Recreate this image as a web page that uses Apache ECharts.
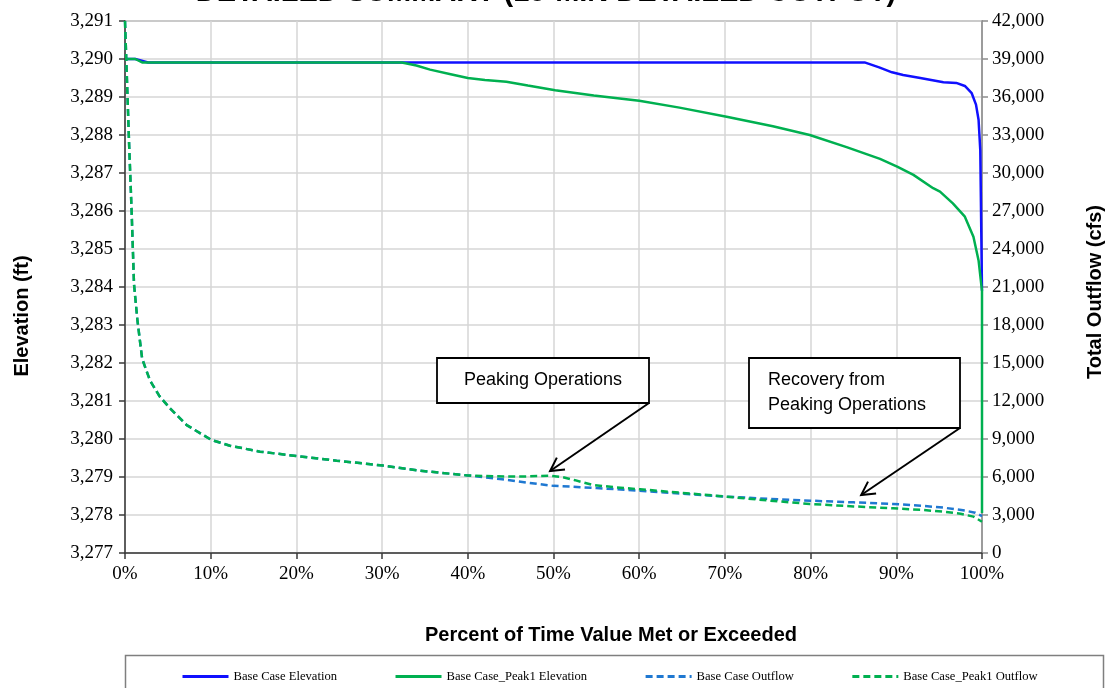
<!DOCTYPE html>
<html><head><meta charset="utf-8">
<script src="https://cdn.jsdelivr.net/npm/echarts@6/dist/echarts.min.js"></script>
<style>html,body{margin:0;padding:0;background:#fff}#c{width:1108px;height:688px}</style>
</head><body><div id="c"></div>
<script>
// ---- data ----
const baseElevPct = [0, 1.2, 2.7, 86.3, 88, 89.5, 90.8, 92.8, 95.5, 97, 98, 98.8, 99.3, 99.6, 99.8, 100];
const baseElevFt  = [3290.0, 3290.0, 3289.91, 3289.91, 3289.78, 3289.65, 3289.58, 3289.5, 3289.39, 3289.37, 3289.29, 3289.1, 3288.8, 3288.4, 3287.6, 3283.9];

const peakElevPct = [0, 1.2, 2.0, 32.3, 34, 35.6, 38, 40, 42, 44.5, 47, 50.2, 54.7, 60, 64.7, 70.2, 75.6, 79.9, 84.2, 88.1, 90.1, 92, 94.3, 95.1, 96.6, 98, 99, 99.6, 100, 100];
const peakElevFt  = [3290, 3290, 3289.91, 3289.91, 3289.83, 3289.72, 3289.6, 3289.5, 3289.45, 3289.4, 3289.3, 3289.18, 3289.04, 3288.9, 3288.72, 3288.48, 3288.23, 3288.0, 3287.68, 3287.37, 3287.17, 3286.95, 3286.6, 3286.51, 3286.2, 3285.85, 3285.32, 3284.7, 3283.9, 3278.05];

const baseOutPct = [0, 0.47, 0.78, 1.05, 1.44, 2.0, 2.9, 4.0, 5.25, 7.2, 10.1, 12.25, 15.75, 20, 24.7, 30.1, 34.4, 40, 42, 44, 47, 50, 52, 55, 60, 65, 70.2, 75, 80, 85, 89.6, 93, 95.5, 98, 99.2, 100];
const baseOutCfs = [42000, 32460, 26850, 21240, 18430, 15340, 13650, 12400, 11420, 10100, 8920, 8470, 8000, 7660, 7290, 6900, 6500, 6120, 5980, 5820, 5550, 5300, 5240, 5130, 4920, 4680, 4450, 4280, 4130, 4000, 3870, 3730, 3580, 3350, 3180, 2920];

const peakOutPct = [0, 0.47, 0.78, 1.05, 1.44, 2.0, 2.9, 4.0, 5.25, 7.2, 10.1, 12.25, 15.75, 20, 24.7, 30.1, 34.4, 40, 43, 46, 49.5, 51, 52.5, 54.6, 57, 60.1, 65, 70.2, 75, 79.9, 85, 89.6, 93, 95.5, 97.5, 99, 100];
const peakOutCfs = [42000, 32460, 26850, 21240, 18430, 15340, 13650, 12400, 11420, 10100, 8920, 8470, 8000, 7660, 7290, 6900, 6500, 6120, 6060, 6030, 6100, 6000, 5750, 5370, 5200, 5030, 4750, 4450, 4150, 3870, 3680, 3530, 3400, 3260, 3100, 2870, 2470];

const seriesNames = ['Base Case Elevation', 'Base Case_Peak1 Elevation', 'Base Case Outflow', 'Base Case_Peak1 Outflow'];
const titleText = 'DETAILED SUMMARY (15-MIN DETAILED OUTPUT)';
const xTitle = 'Percent of Time Value Met or Exceeded';
const yLeftTitle = 'Elevation (ft)';
const yRightTitle = 'Total Outflow (cfs)';
const note1 = 'Peaking Operations';
const note2Lines = ['Recovery from', 'Peaking Operations'];

// ---- helpers ----
const zip = (xs, ys) => xs.map((x, i) => [x, ys[i]]);
const comma = v => String(Math.round(v)).replace(/\B(?=(\d{3})+(?!\d))/g, ',');
const SERIF = '"Liberation Serif", "Times New Roman", serif';
const SANS = '"Liberation Sans", Arial, sans-serif';

const chart = echarts.init(document.getElementById('c'), null, {renderer: 'canvas'});

const tickLabel = {fontFamily: SERIF, fontSize: 19, color: '#000'};

chart.setOption({
  animation: false,
  backgroundColor: '#fff',
  grid: {left: 125, right: 126, top: 21, bottom: 135, show: true, borderColor: '#8c8c8c', borderWidth: 1.5, containLabel: false},
  legend: {
    left: 176, top: 665, itemWidth: 46, itemHeight: 10, itemGap: 57,
    itemStyle: {opacity: 0},
    lineStyle: {width: 3},
    textStyle: {fontFamily: SERIF, fontSize: 12.6, color: '#000'},
    data: seriesNames
  },
  xAxis: {
    type: 'value', min: 0, max: 100, interval: 10,
    axisLine: {show: true, lineStyle: {color: '#3a3a3a', width: 1.5}},
    axisTick: {show: true, length: 6, lineStyle: {color: '#3a3a3a', width: 1.5}},
    axisLabel: Object.assign({formatter: '{value}%', margin: 12}, tickLabel),
    splitLine: {show: true, lineStyle: {color: '#d6d6d6', width: 1.5}}
  },
  yAxis: [
    {
      type: 'value', min: 3277, max: 3291, interval: 1, position: 'left',
      axisLine: {show: true, lineStyle: {color: '#3a3a3a', width: 1.5}},
      axisTick: {show: true, length: 6, lineStyle: {color: '#3a3a3a', width: 1.5}},
      axisLabel: Object.assign({formatter: comma, margin: 12}, tickLabel),
      splitLine: {show: true, lineStyle: {color: '#d6d6d6', width: 1.5}}
    },
    {
      type: 'value', min: 0, max: 42000, interval: 3000, position: 'right',
      axisLine: {show: true, lineStyle: {color: '#8c8c8c', width: 1.5}},
      axisTick: {show: true, length: 6, lineStyle: {color: '#8c8c8c', width: 1.5}},
      axisLabel: Object.assign({formatter: comma, margin: 10}, tickLabel),
      splitLine: {show: false}
    }
  ],
  series: [
    {name: seriesNames[0], type: 'line', yAxisIndex: 0, showSymbol: false, symbol: 'none', data: zip(baseElevPct, baseElevFt),
     lineStyle: {color: '#1010ff', width: 2.5}, itemStyle: {color: '#1010ff'}},
    {name: seriesNames[1], type: 'line', yAxisIndex: 0, showSymbol: false, symbol: 'none', data: zip(peakElevPct, peakElevFt),
     lineStyle: {color: '#00b050', width: 2.5}, itemStyle: {color: '#00b050'}},
    {name: seriesNames[2], type: 'line', yAxisIndex: 1, showSymbol: false, symbol: 'none', data: zip(baseOutPct, baseOutCfs),
     lineStyle: {color: '#1f78d1', width: 2.5, type: [7, 4]}, itemStyle: {color: '#1f78d1'}},
    {name: seriesNames[3], type: 'line', yAxisIndex: 1, showSymbol: false, symbol: 'none', data: zip(peakOutPct, peakOutCfs),
     lineStyle: {color: '#00b050', width: 2.5, type: [7, 4]}, itemStyle: {color: '#00b050'}}
  ]
});

// ---- annotations & titles ----
function arrow(tail, tip) {
  const dx = tip[0] - tail[0], dy = tip[1] - tail[1];
  const ang = Math.atan2(dy, dx);
  const L = 15, spread = 0.5;
  const a1 = [tip[0] - L * Math.cos(ang - spread), tip[1] - L * Math.sin(ang - spread)];
  const a2 = [tip[0] - L * Math.cos(ang + spread), tip[1] - L * Math.sin(ang + spread)];
  const st = {stroke: '#000', lineWidth: 2};
  return [
    {type: 'line', shape: {x1: tail[0], y1: tail[1], x2: tip[0], y2: tip[1]}, style: st, z: 100},
    {type: 'polyline', shape: {points: [a1, tip, a2]}, style: Object.assign({fill: null}, st), z: 100}
  ];
}
const tip1 = chart.convertToPixel({xAxisIndex: 0, yAxisIndex: 1}, [49.6, 6470]);
const tip2 = chart.convertToPixel({xAxisIndex: 0, yAxisIndex: 1}, [85.9, 4580]);

const g = [
  {type: 'text', x: 546, y: -7, z: 100, style: {text: titleText, font: 'bold 29px ' + SANS, fill: '#000', align: 'center', verticalAlign: 'middle'}},
  {type: 'text', x: 611, y: 635, z: 100, style: {text: xTitle, font: 'bold 20px ' + SANS, fill: '#000', align: 'center', verticalAlign: 'middle'}},
  {type: 'text', x: 22, y: 316, rotation: Math.PI / 2, z: 100, style: {text: yLeftTitle, font: 'bold 20px ' + SANS, fill: '#000', align: 'center', verticalAlign: 'middle'}},
  {type: 'text', x: 1095, y: 292, rotation: Math.PI / 2, z: 100, style: {text: yRightTitle, font: 'bold 20px ' + SANS, fill: '#000', align: 'center', verticalAlign: 'middle'}},
  // legend frame
  {type: 'rect', shape: {x: 125.5, y: 655.5, width: 978, height: 60}, style: {fill: null, stroke: '#7f7f7f', lineWidth: 1.5}, z: 100},
  // note 1
  {type: 'rect', shape: {x: 437, y: 358, width: 212, height: 45}, style: {fill: '#fff', stroke: '#000', lineWidth: 1.8}, z: 100},
  {type: 'text', x: 543, y: 380, z: 101, style: {text: note1, font: '18px ' + SANS, fill: '#000', align: 'center', verticalAlign: 'middle'}},
  // note 2
  {type: 'rect', shape: {x: 749, y: 358, width: 211, height: 70}, style: {fill: '#fff', stroke: '#000', lineWidth: 1.8}, z: 100},
  {type: 'text', x: 768, y: 380, z: 101, style: {text: note2Lines[0], font: '18px ' + SANS, fill: '#000', align: 'left', verticalAlign: 'middle'}},
  {type: 'text', x: 768, y: 405, z: 101, style: {text: note2Lines[1], font: '18px ' + SANS, fill: '#000', align: 'left', verticalAlign: 'middle'}}
].concat(arrow([649, 403], tip1), arrow([960, 428], tip2));

chart.setOption({graphic: g});
</script>
</body></html>
